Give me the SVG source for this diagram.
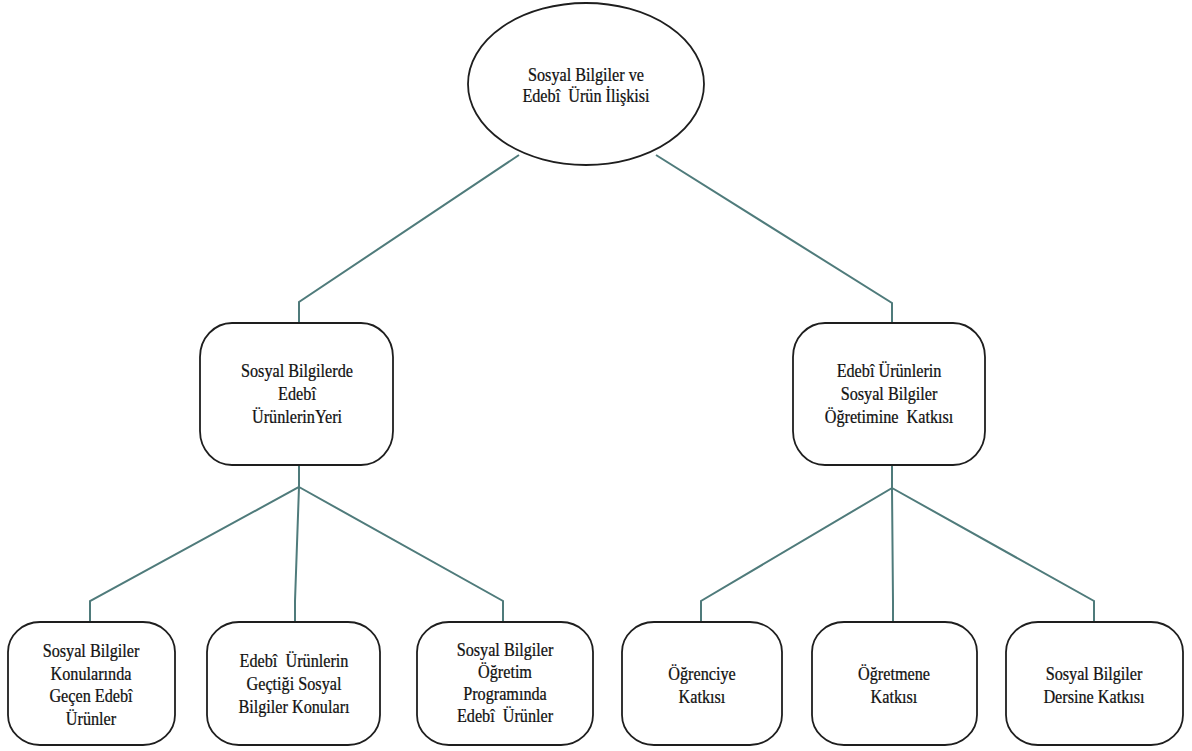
<svg xmlns="http://www.w3.org/2000/svg" width="1192" height="751" viewBox="0 0 1192 751">
<style>
.c{fill:none;stroke:#4f7b7b;stroke-width:2;stroke-linejoin:miter}
.n{fill:#ffffff;stroke:#1e1e1e;stroke-width:1.8}
.t{font-family:'Liberation Serif','Times New Roman',serif;font-size:18px;fill:#111111;stroke:#111111;stroke-width:0.25;text-anchor:middle;white-space:pre}
</style>
<rect width="1192" height="751" fill="#ffffff"/>
<g id="connectors">
<polyline class="c" points="519,155 299,302 299,323"/>
<polyline class="c" points="656,155 892,303 892,323"/>
<polyline class="c" points="299,465 299,487 90,601 90,622"/>
<polyline class="c" points="299,487 295,601 295,622"/>
<polyline class="c" points="299,487 503,601 503,622"/>
<polyline class="c" points="892,465 892,488 701,601 701,622"/>
<polyline class="c" points="892,488 893,601 893,622"/>
<polyline class="c" points="892,488 1094,601 1094,622"/>
</g>
<g id="root">
<ellipse class="n" cx="586" cy="84" rx="118" ry="81"/>
<text class="t" transform="matrix(0.9 0 0 1 586 0)" x="0" y="81">Sosyal Bilgiler ve</text>
<text class="t" transform="matrix(0.9 0 0 1 586 0)" x="0" y="102">Edebî  Ürün İlişkisi</text>
</g>
<g id="yer">
<rect class="n" x="200" y="323" width="193" height="142" rx="32" ry="34"/>
<text class="t" transform="matrix(0.9 0 0 1 297 0)" x="0" y="377">Sosyal Bilgilerde</text>
<text class="t" transform="matrix(0.9 0 0 1 297 0)" x="0" y="400">Edebî</text>
<text class="t" transform="matrix(0.9 0 0 1 297 0)" x="0" y="423">ÜrünlerinYeri</text>
</g>
<g id="katki">
<rect class="n" x="793" y="323" width="192" height="142" rx="32" ry="34"/>
<text class="t" transform="matrix(0.9 0 0 1 889 0)" x="0" y="377">Edebî Ürünlerin</text>
<text class="t" transform="matrix(0.9 0 0 1 889 0)" x="0" y="400">Sosyal Bilgiler</text>
<text class="t" transform="matrix(0.9 0 0 1 889 0)" x="0" y="423">Öğretimine  Katkısı</text>
</g>
<g id="konularinda">
<rect class="n" x="8" y="622" width="167" height="123" rx="32" ry="30"/>
<text class="t" transform="matrix(0.9 0 0 1 91 0)" x="0" y="657">Sosyal Bilgiler</text>
<text class="t" transform="matrix(0.9 0 0 1 91 0)" x="0" y="680">Konularında</text>
<text class="t" transform="matrix(0.9 0 0 1 91 0)" x="0" y="702">Geçen Edebî</text>
<text class="t" transform="matrix(0.9 0 0 1 91 0)" x="0" y="725">Ürünler</text>
</g>
<g id="gectigi">
<rect class="n" x="207" y="622" width="173" height="123" rx="32" ry="30"/>
<text class="t" transform="matrix(0.9 0 0 1 294 0)" x="0" y="667">Edebî  Ürünlerin</text>
<text class="t" transform="matrix(0.9 0 0 1 294 0)" x="0" y="690">Geçtiği Sosyal</text>
<text class="t" transform="matrix(0.9 0 0 1 294 0)" x="0" y="713">Bilgiler Konuları</text>
</g>
<g id="program">
<rect class="n" x="417" y="622" width="176" height="123" rx="32" ry="30"/>
<text class="t" transform="matrix(0.9 0 0 1 505 0)" x="0" y="656">Sosyal Bilgiler</text>
<text class="t" transform="matrix(0.9 0 0 1 505 0)" x="0" y="678">Öğretim</text>
<text class="t" transform="matrix(0.9 0 0 1 505 0)" x="0" y="700">Programında</text>
<text class="t" transform="matrix(0.9 0 0 1 505 0)" x="0" y="722">Edebî  Ürünler</text>
</g>
<g id="ogrenci">
<rect class="n" x="622" y="622" width="160" height="123" rx="32" ry="30"/>
<text class="t" transform="matrix(0.9 0 0 1 702 0)" x="0" y="680">Öğrenciye</text>
<text class="t" transform="matrix(0.9 0 0 1 702 0)" x="0" y="703">Katkısı</text>
</g>
<g id="ogretmen">
<rect class="n" x="812" y="622" width="165" height="123" rx="32" ry="30"/>
<text class="t" transform="matrix(0.9 0 0 1 894 0)" x="0" y="680">Öğretmene</text>
<text class="t" transform="matrix(0.9 0 0 1 894 0)" x="0" y="703">Katkısı</text>
</g>
<g id="ders">
<rect class="n" x="1006" y="622" width="177" height="123" rx="32" ry="30"/>
<text class="t" transform="matrix(0.9 0 0 1 1094 0)" x="0" y="680">Sosyal Bilgiler</text>
<text class="t" transform="matrix(0.9 0 0 1 1094 0)" x="0" y="703">Dersine Katkısı</text>
</g>
</svg>
